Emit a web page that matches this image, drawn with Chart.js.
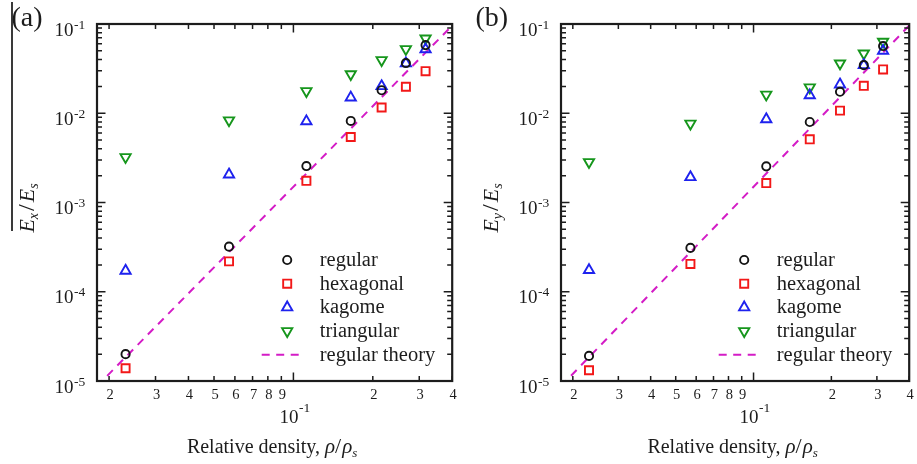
<!DOCTYPE html>
<html>
<head>
<meta charset="utf-8">
<script src="https://cdn.jsdelivr.net/npm/chart.js@4/dist/chart.umd.min.js"></script>
<style>
  html, body { margin: 0; padding: 0; background: #fff; }
  body { position: relative; width: 917px; height: 464px; overflow: hidden; }
  .panel { position: absolute; top: 0; height: 464px; }
  #panelA { left: 0; width: 460px; }
  #panelB { left: 460px; width: 457px; }
  .rule { position: absolute; left: 11px; top: 2px; width: 1.5px; height: 229px; background: #3a3a3a; }
</style>
</head>
<body>
<div class="rule"></div>
<div class="panel" id="panelA"><canvas id="chartA"></canvas></div>
<div class="panel" id="panelB"><canvas id="chartB"></canvas></div>
<script>
// Relative density of each lattice sample
const density = [0.0231, 0.057, 0.112, 0.165, 0.216, 0.267, 0.317];

// Normalised modulus E_x / E_s
const regularEx    = [2.0e-5, 3.2e-4, 2.56e-3, 8.2e-3, 1.81e-2, 3.65e-2, 5.8e-2];
const hexagonalEx  = [1.39e-5, 2.19e-4, 1.75e-3, 5.42e-3, 1.16e-2, 1.98e-2, 2.96e-2];
const kagomeEx     = [1.72e-4, 2.06e-3, 8.13e-3, 1.5e-2, 2.01e-2, 3.62e-2, 5.2e-2];
const triangularEx = [3.23e-3, 8.34e-3, 1.77e-2, 2.74e-2, 3.94e-2, 5.24e-2, 6.9e-2];

// Normalised modulus E_y / E_s
const regularEy    = [1.91e-5, 3.1e-4, 2.54e-3, 7.98e-3, 1.74e-2, 3.46e-2, 5.66e-2];
const hexagonalEy  = [1.32e-5, 2.05e-4, 1.65e-3, 5.1e-3, 1.07e-2, 2.03e-2, 3.1e-2];
const kagomeEy     = [1.75e-4, 1.92e-3, 8.57e-3, 1.59e-2, 2.1e-2, 3.46e-2, 5.01e-2];
const triangularEy = [2.84e-3, 7.66e-3, 1.62e-2, 1.95e-2, 3.62e-2, 4.68e-2, 6.33e-2];

// Cubic scaling line for the regular lattice (end points)
const theoryDensity = [0.018, 0.4];
const theoryModulus = [8.75e-6, 9.6e-2];

const seriesNames = ['regular', 'hexagonal', 'kagome', 'triangular', 'regular theory'];

// Axis ticks
const xRange = [0.018, 0.4];
const yRange = [1e-5, 1e-1];
const xMinorTicks  = [0.02, 0.03, 0.04, 0.05, 0.06, 0.07, 0.08, 0.09, 0.2, 0.3, 0.4];
const xMinorLabels = ['2', '3', '4', '5', '6', '7', '8', '9', '2', '3', '4'];
const xMajorTicks  = [0.1];
const xMajorExps   = ['-1'];
const yMajorTicks  = [1e-5, 1e-4, 1e-3, 1e-2, 1e-1];
const yMajorExps   = ['-5', '-4', '-3', '-2', '-1'];
const yMinorSteps  = [2, 3, 4, 5, 6, 7, 8, 9];

const SERIF = '"Liberation Serif", "Times New Roman", "DejaVu Serif", serif';
const INK = '#1c1c1c';

function pairs(xs, ys) { return xs.map((x, i) => ({ x, y: ys[i] })); }

function runWidth(ctx, runs) {
  let w = 0;
  for (const r of runs) {
    ctx.font = (r.italic ? 'italic ' : '') + r.size + 'px ' + SERIF;
    w += ctx.measureText(r.t).width + (r.gap || 0);
  }
  return w;
}
function drawRuns(ctx, runs, x, y) {
  let cx = x;
  for (const r of runs) {
    ctx.font = (r.italic ? 'italic ' : '') + r.size + 'px ' + SERIF;
    ctx.fillText(r.t, cx, y + (r.dy || 0));
    cx += ctx.measureText(r.t).width + (r.gap || 0);
  }
}

function marker(ctx, ds, x, y) {
  const opts = {
    pointStyle: ds.pointStyle,
    radius: ds.pointRadius,
    rotation: ds.rotation || 0,
    borderWidth: ds.pointBorderWidth
  };
  ctx.save();
  ctx.strokeStyle = ds.borderColor;
  ctx.fillStyle = 'rgba(0,0,0,0)';
  ctx.lineWidth = ds.pointBorderWidth;
  Chart.helpers.drawPoint(ctx, opts, x, y);
  ctx.restore();
}

// Boxed frame, inward ticks on every side, tick labels and titles
const framePlugin = {
  id: 'frame',
  afterDraw(chart, args, o) {
    const { ctx, chartArea: a } = chart;
    const sx = chart.scales.x, sy = chart.scales.y;
    ctx.save();
    ctx.strokeStyle = INK;
    ctx.fillStyle = INK;
    ctx.lineWidth = 1.5;
    ctx.beginPath();
    const xt = (v, len) => {
      const p = sx.getPixelForValue(v);
      ctx.moveTo(p, a.bottom); ctx.lineTo(p, a.bottom - len);
      ctx.moveTo(p, a.top); ctx.lineTo(p, a.top + len);
    };
    const yt = (v, len) => {
      const p = sy.getPixelForValue(v);
      ctx.moveTo(a.left, p); ctx.lineTo(a.left + len, p);
      ctx.moveTo(a.right, p); ctx.lineTo(a.right - len, p);
    };
    xMinorTicks.forEach(v => xt(v, 5));
    xMajorTicks.forEach(v => xt(v, 8.5));
    yMajorTicks.forEach((v, i) => {
      yt(v, 8.5);
      if (i < yMajorTicks.length - 1) yMinorSteps.forEach(m => yt(v * m, 5));
    });
    ctx.stroke();

    ctx.lineWidth = 2.2;
    ctx.strokeRect(a.left, a.top, a.right - a.left, a.bottom - a.top);

    // y tick labels: 10 with raised exponent
    ctx.textAlign = 'left';
    ctx.textBaseline = 'alphabetic';
    yMajorTicks.forEach((v, i) => {
      const p = sy.getPixelForValue(v);
      ctx.font = '19px ' + SERIF;
      const left = a.left - 42.5;
      ctx.fillText('10', left, p + 11.5);
      const w = ctx.measureText('10').width;
      ctx.font = '13.5px ' + SERIF;
      ctx.fillText(yMajorExps[i], left + w + 0.5, p + 4.5);
    });

    // x tick labels
    ctx.font = '14.5px ' + SERIF;
    ctx.textAlign = 'center';
    xMinorTicks.forEach((v, i) => {
      ctx.fillText(xMinorLabels[i], sx.getPixelForValue(v) + 1, a.bottom + 17.5);
    });
    ctx.textAlign = 'left';
    xMajorTicks.forEach((v, i) => {
      const p = sx.getPixelForValue(v);
      ctx.font = '19px ' + SERIF;
      ctx.fillText('10', p - 14, a.bottom + 42);
      const w = ctx.measureText('10').width;
      ctx.font = '13.5px ' + SERIF;
      ctx.fillText(xMajorExps[i], p - 14 + w + 0.5, a.bottom + 31);
    });

    // x axis title
    const xRuns = [
      { t: 'Relative density, ', size: 20 },
      { t: '\u03C1', size: 21, italic: true },
      { t: '/', size: 22, gap: 1 },
      { t: '\u03C1', size: 21, italic: true },
      { t: 's', size: 13, italic: true, dy: 4 }
    ];
    const xw = runWidth(ctx, xRuns);
    drawRuns(ctx, xRuns, (a.left + a.right) / 2 - 2.5 - xw / 2, a.bottom + 71.5);

    // y axis title, rotated
    const yRuns = [
      { t: 'E', size: 22, italic: true },
      { t: o.sub, size: 14, italic: true, dy: 4, gap: 2 },
      { t: '/', size: 24, gap: 2 },
      { t: 'E', size: 22, italic: true },
      { t: 's', size: 14, italic: true, dy: 4 }
    ];
    const yw = runWidth(ctx, yRuns);
    ctx.save();
    ctx.translate(a.left - 63.5, (a.top + a.bottom) / 2 + 5.5);
    ctx.rotate(-Math.PI / 2);
    drawRuns(ctx, yRuns, -yw / 2, 0);
    ctx.restore();

    // panel letter
    ctx.font = '28px ' + SERIF;
    ctx.fillText(o.letter, a.left - 85.5, 26);
    ctx.restore();
  }
};

// Legend inside the lower right of the plot
const legendPlugin = {
  id: 'insetLegend',
  afterDraw(chart) {
    const { ctx, chartArea: a } = chart;
    const mx = a.right - 165, tx = a.right - 132.5;
    const y0 = a.bottom - 121, step = 23.7;
    ctx.save();
    ctx.font = '20.5px ' + SERIF;
    ctx.fillStyle = INK;
    ctx.textAlign = 'left';
    ctx.textBaseline = 'alphabetic';
    chart.data.datasets.forEach((ds, i) => {
      const cy = y0 + i * step;
      if (ds.showLine) {
        ctx.save();
        ctx.strokeStyle = ds.borderColor;
        ctx.lineWidth = ds.borderWidth;
        ctx.setLineDash(ds.borderDash);
        ctx.beginPath();
        ctx.moveTo(a.right - 190.5, cy);
        ctx.lineTo(a.right - 148, cy);
        ctx.stroke();
        ctx.restore();
      } else {
        marker(ctx, ds, mx, cy);
      }
      ctx.fillText(ds.label, tx, cy + 6);
    });
    ctx.restore();
  }
};

function makePanel(canvasId, letter, sub, values, padLeft, padRight) {
  const [reg, hex, kag, tri] = values;
  const common = { showLine: false, backgroundColor: 'rgba(0,0,0,0)', pointBorderWidth: 1.9, pointHoverRadius: 0 };
  return new Chart(document.getElementById(canvasId), {
    type: 'scatter',
    data: {
      datasets: [
        { ...common, label: seriesNames[0], data: pairs(density, reg), pointStyle: 'circle', pointRadius: 4.1, borderColor: '#141414' },
        { ...common, label: seriesNames[1], data: pairs(density, hex), pointStyle: 'rect', pointRadius: 5.7, borderColor: '#f21818' },
        { ...common, label: seriesNames[2], data: pairs(density, kag), pointStyle: 'triangle', pointRadius: 5.9, borderColor: '#1e22ee' },
        { ...common, label: seriesNames[3], data: pairs(density, tri), pointStyle: 'triangle', rotation: 180, pointRadius: 5.9, borderColor: '#16961c' },
        { label: seriesNames[4], data: pairs(theoryDensity, theoryModulus), showLine: true, pointRadius: 0,
          borderColor: '#d41cc6', borderWidth: 2, borderDash: [8, 6.5], backgroundColor: 'rgba(0,0,0,0)', fill: false }
      ]
    },
    options: {
      responsive: true,
      maintainAspectRatio: false,
      animation: false,
      events: [],
      layout: { padding: { left: padLeft, right: padRight, top: 24, bottom: 83 } },
      scales: {
        x: { type: 'logarithmic', min: xRange[0], max: xRange[1], display: false },
        y: { type: 'logarithmic', min: yRange[0], max: yRange[1], display: false }
      },
      plugins: {
        legend: { display: false },
        tooltip: { enabled: false },
        frame: { letter, sub }
      }
    },
    plugins: [framePlugin, legendPlugin]
  });
}

makePanel('chartA', '(a)', 'x', [regularEx, hexagonalEx, kagomeEx, triangularEx], 97, 6);
makePanel('chartB', '(b)', 'y', [regularEy, hexagonalEy, kagomeEy, triangularEy], 101, 1);
</script>
</body>
</html>
